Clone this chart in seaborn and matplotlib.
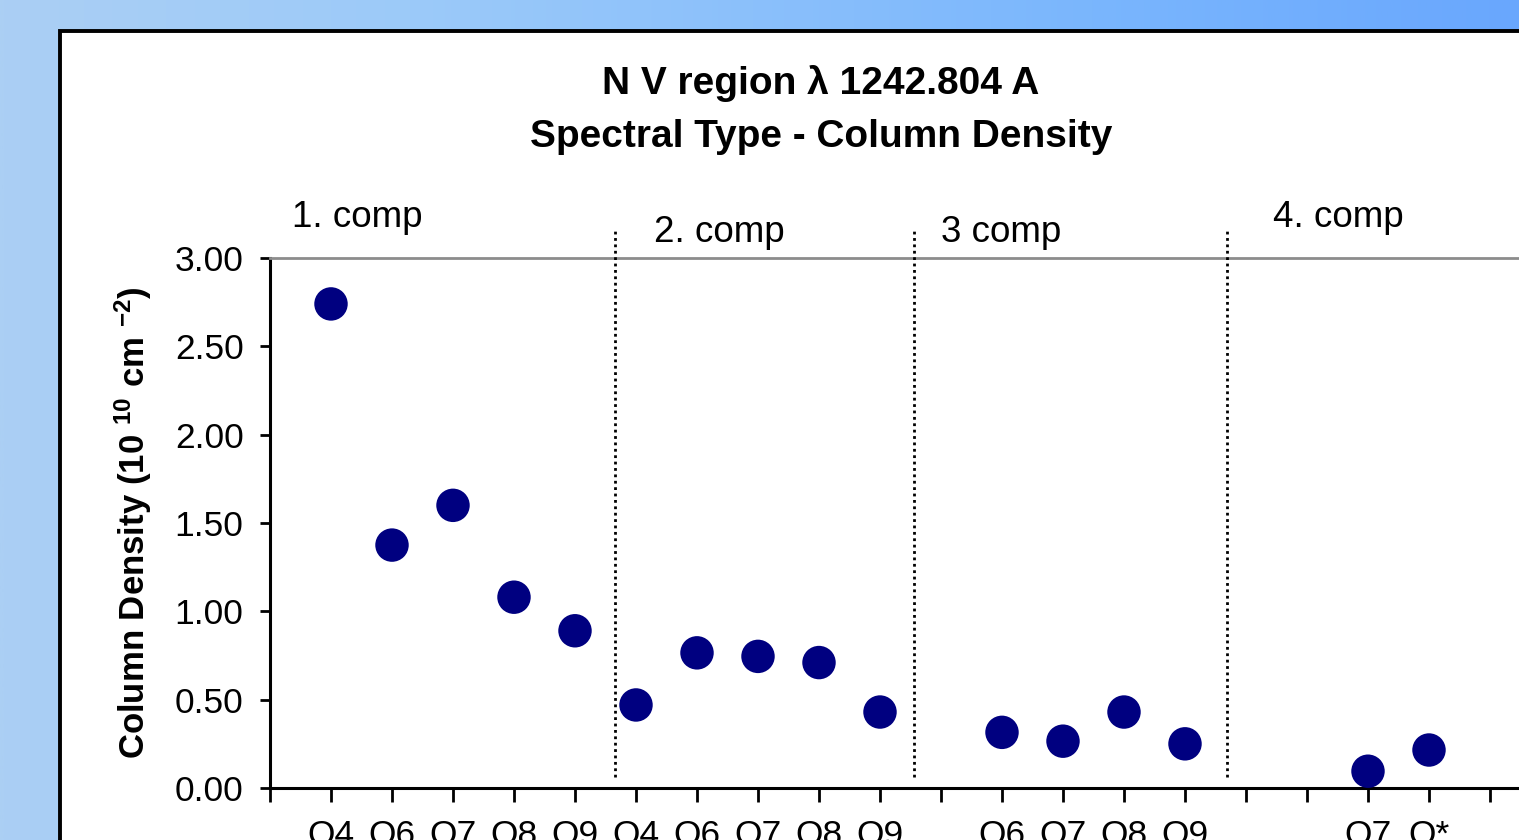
import numpy as np
import pandas as pd
import matplotlib
matplotlib.use("Agg")
import matplotlib.pyplot as plt
import seaborn as sns
from matplotlib.patches import Rectangle
from matplotlib.colors import LinearSegmentedColormap

# ---- data ----
positions = [1, 2, 3, 4, 5, 6, 7, 8, 9, 10, 12, 13, 14, 15, 18, 19]
spectral_types = ["O4", "O6", "O7", "O8", "O9", "O4", "O6", "O7", "O8", "O9",
                  "O6", "O7", "O8", "O9", "O7", "O*"]
column_density = [2.74, 1.375, 1.60, 1.08, 0.89, 0.47, 0.765, 0.745, 0.71, 0.43,
                  0.315, 0.265, 0.43, 0.25, 0.095, 0.215]
tick_positions = list(range(0, 21))
y_ticks = [0.0, 0.5, 1.0, 1.5, 2.0, 2.5, 3.0]
components = ["1. comp", "2. comp", "3 comp", "4. comp"]
comp_label_x = [1.43, 7.36, 11.98, 17.52]
comp_label_y = [3.232, 3.147, 3.147, 3.232]
separators = [5.65, 10.55, 15.69]
title_lines = ["N V region \u03bb 1242.804 A", "Spectral Type - Column Density"]
y_label = r"Column Density (10 $^{\mathbf{10}}$ cm $^{\mathbf{-2}}$)"

df = pd.DataFrame({"position": positions, "type": spectral_types,
                   "density": column_density})

# ---- style ----
sns.set_style("ticks")
plt.rcParams["font.family"] = ["Liberation Sans", "DejaVu Sans"]
plt.rcParams["mathtext.fontset"] = "custom"
plt.rcParams["mathtext.rm"] = "Liberation Sans"
plt.rcParams["mathtext.bf"] = "Liberation Sans:bold"
plt.rcParams["mathtext.it"] = "Liberation Sans:italic"
plt.rcParams["text.color"] = "black"
plt.rcParams["axes.labelcolor"] = "black"

W, H = 1519, 840
fig = plt.figure(figsize=(W / 100, H / 100), dpi=100)

# background gradient
bg = fig.add_axes([0, 0, 1, 1], zorder=-10)
cmap = LinearSegmentedColormap.from_list(
    "bg", [(0.0, "#abcff4"), (0.27, "#9ccaf9"), (0.72, "#7ab6fd"), (1.0, "#69a7fd")])
grad = np.linspace(0, 1, 512).reshape(1, -1)
bg.imshow(grad, aspect="auto", cmap=cmap, extent=[0, 1, 0, 1])
bg.set_xlim(0, 1)
bg.set_ylim(0, 1)
bg.axis("off")
bg.add_patch(Rectangle((60 / W, -0.2), 1.2, (1 - 31 / H) + 0.2,
                       transform=bg.transAxes, facecolor="white",
                       edgecolor="black", linewidth=2.8, clip_on=False))

# main axes
x0 = 270 / W
y0 = (H - 788) / H
ax_h = (788 - 258) / H
ax_w = 21 * 61 / W
ax = fig.add_axes([x0, y0, ax_w, ax_h])
ax.patch.set_alpha(0)

sns.scatterplot(data=df, x="position", y="density", color="#000080", s=580,
                edgecolor="none", linewidth=0, ax=ax, zorder=5, clip_on=False,
                legend=False)

ax.set_xlim(0, 21)
ax.set_ylim(0, 3)
ax.set_yticks(y_ticks)
ax.set_yticklabels([f"{v:.2f}" for v in y_ticks])
label_map = dict(zip(positions, spectral_types))
ax.set_xticks(tick_positions)
ax.set_xticklabels([label_map.get(p, "") for p in tick_positions])
ax.set_xlabel("")

for side in ["left", "bottom"]:
    ax.spines[side].set_color("black")
    ax.spines[side].set_linewidth(2.2)
ax.spines["top"].set_visible(True)
ax.spines["top"].set_color("#8c8c8c")
ax.spines["top"].set_linewidth(2.0)
ax.spines["right"].set_visible(False)

ax.tick_params(axis="y", direction="out", length=7, width=2, labelsize=25.5,
               pad=12, colors="black")
ax.tick_params(axis="x", direction="out", length=10, width=2, labelsize=25.5,
               pad=12, colors="black")

ax.set_ylabel(y_label, fontsize=25, fontweight="bold", color="black")
ax.yaxis.set_label_coords((154 - 270) / (21 * 61), 0.5)

for s in separators:
    ax.plot([s, s], [0.062, 3.165], color="black", linestyle=(0, (1, 1.3)),
            linewidth=2.0, clip_on=False, zorder=3)

for lab, lx, ly in zip(components, comp_label_x, comp_label_y):
    ax.text(lx, ly, lab, ha="center", va="center", fontsize=26.5,
            color="black", clip_on=False)

fig.text(821 / W, 1 - 84 / H, title_lines[0], ha="center", va="center",
         fontsize=28, fontweight="bold", color="black")
fig.text(821 / W, 1 - 137 / H, title_lines[1], ha="center", va="center",
         fontsize=28, fontweight="bold", color="black")

fig.savefig("out.png", dpi=100)
